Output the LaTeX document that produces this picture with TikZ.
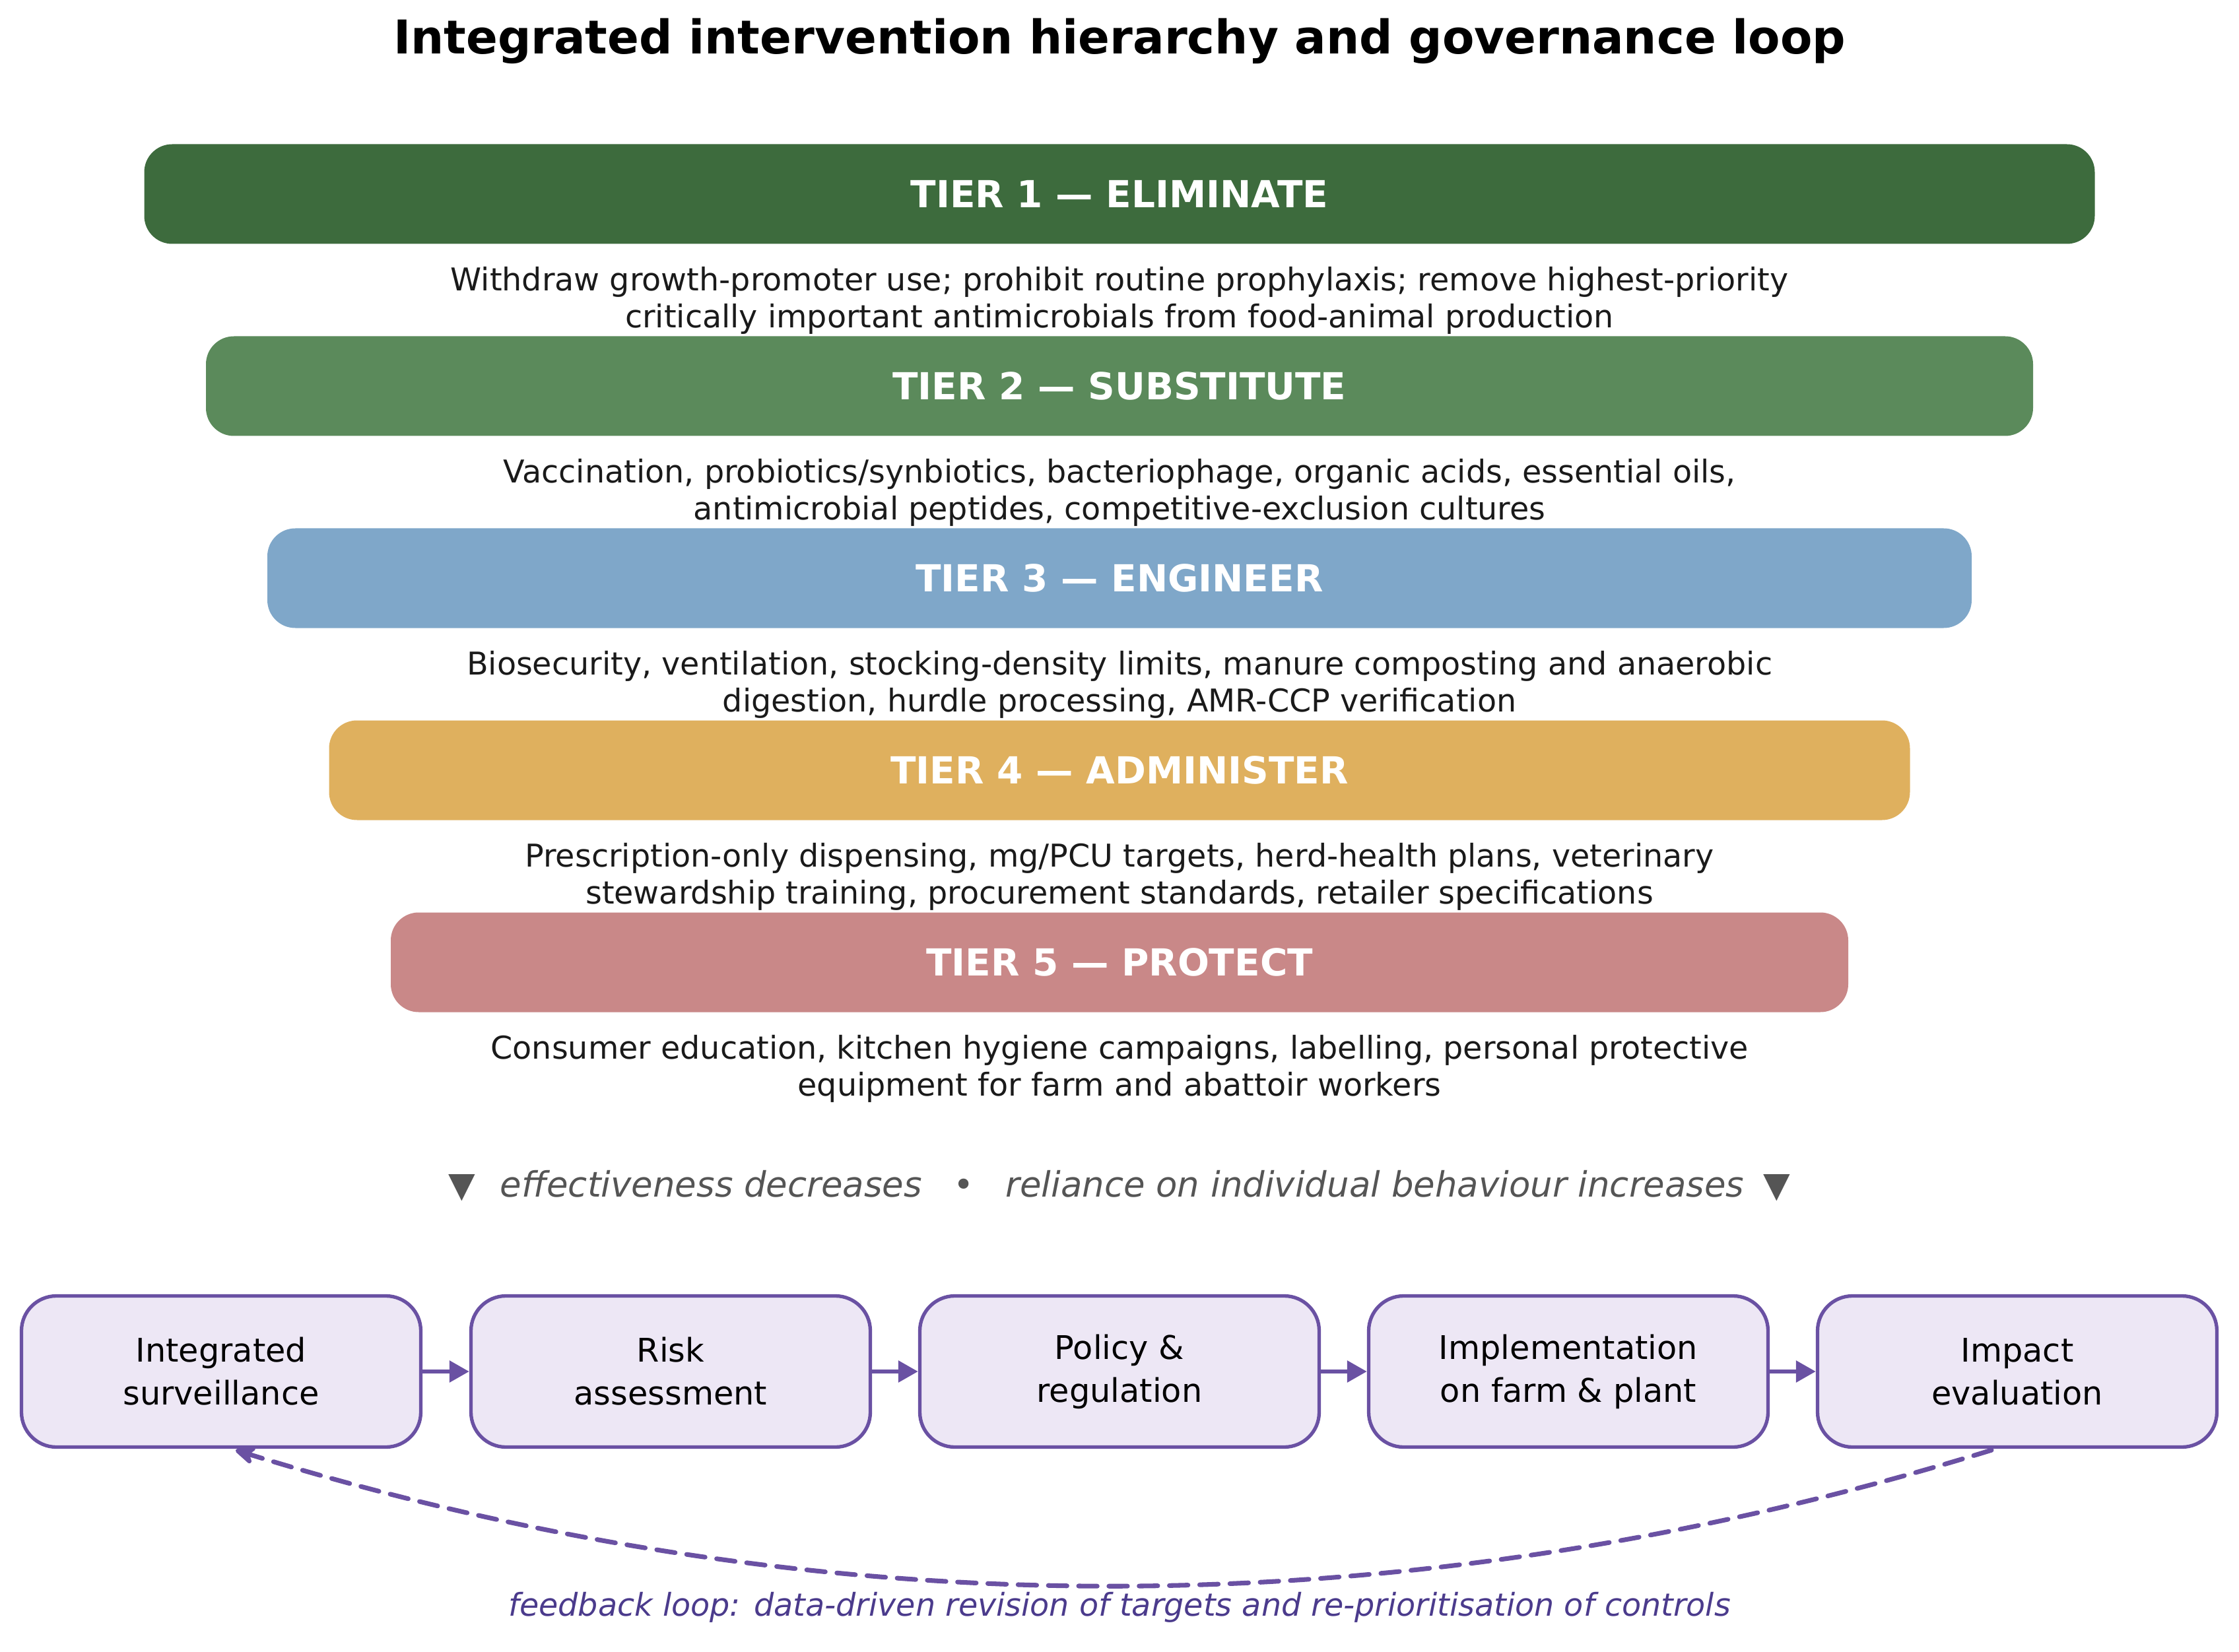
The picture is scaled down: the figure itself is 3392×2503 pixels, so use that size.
\documentclass[tikz,border=0pt]{standalone}
\usepackage{fontspec}
\setmainfont{DejaVu Sans}
\usetikzlibrary{arrows.meta,calc}
\definecolor{tA}{HTML}{3D6B3D}
\definecolor{tB}{HTML}{5B8A5B}
\definecolor{tC}{HTML}{7FA7C9}
\definecolor{tD}{HTML}{DFB05E}
\definecolor{tE}{HTML}{C98888}
\definecolor{pBorder}{HTML}{6A51A3}
\definecolor{pFill}{HTML}{EDE7F5}
\definecolor{pText}{HTML}{4B3B8C}
\definecolor{gText}{HTML}{555555}
\definecolor{bodyText}{HTML}{1A1A1A}
\begin{document}
\begin{tikzpicture}[x=0.2835pt,y=-0.2835pt,
  tierbar/.style={rounded corners=12pt, minimum height=151*0.2835pt, inner sep=0pt,
    text=white, font=\fontsize{16}{18}\selectfont\bfseries},
  tierdesc/.style={align=center, text=bodyText, inner sep=0pt,
    font=\fontsize{13.5}{15.9}\selectfont},
  stagebox/.style={draw=pBorder, fill=pFill, line width=1.5pt, rounded corners=15pt,
    minimum width=605*0.2835pt, minimum height=229*0.2835pt, align=center, inner sep=0pt,
    font=\fontsize{14}{18.4}\selectfont},
  flowarrow/.style={draw=pBorder, line width=1.9pt, -{Triangle[length=8.5pt,width=9pt]}},
  loopArrow/.style={draw=pBorder, line width=2pt, line cap=round,
    dash pattern=on 8pt off 5pt, -{Stealth[length=11pt,width=10pt,round]}}
]
\useasboundingbox (0,0) rectangle (3392,2503);

\node[font=\fontsize{20}{24}\selectfont\bfseries] (title) at (1696,62)
  {Integrated intervention hierarchy and governance loop};

% tiers
\node[tierbar, fill=tA, minimum width=2955*0.2835pt] (t1) at (1696,294) {TIER 1 — ELIMINATE};
\node[tierbar, fill=tB, minimum width=2768*0.2835pt] (t2) at (1696,585) {TIER 2 — SUBSTITUTE};
\node[tierbar, fill=tC, minimum width=2582*0.2835pt] (t3) at (1696,876) {TIER 3 — ENGINEER};
\node[tierbar, fill=tD, minimum width=2395*0.2835pt] (t4) at (1696,1167) {TIER 4 — ADMINISTER};
\node[tierbar, fill=tE, minimum width=2208*0.2835pt] (t5) at (1696,1458) {TIER 5 — PROTECT};

\node[tierdesc] (d1) at (1696,455) {Withdraw growth-promoter use; prohibit routine prophylaxis; remove highest-priority\\critically important antimicrobials from food-animal production};
\node[tierdesc] (d2) at (1696,746) {Vaccination, probiotics/synbiotics, bacteriophage, organic acids, essential oils,\\antimicrobial peptides, competitive-exclusion cultures};
\node[tierdesc] (d3) at (1696,1037) {Biosecurity, ventilation, stocking-density limits, manure composting and anaerobic\\digestion, hurdle processing, AMR-CCP verification};
\node[tierdesc] (d4) at (1696,1328) {Prescription-only dispensing, mg/PCU targets, herd-health plans, veterinary\\stewardship training, procurement standards, retailer specifications};
\node[tierdesc] (d5) at (1696,1619) {Consumer education, kitchen hygiene campaigns, labelling, personal protective\\equipment for farm and abattoir workers};

\node[text=gText, font=\fontsize{15}{17}\selectfont, inner sep=0pt] (trend) at (1696,1797)
  {▼\hspace{0.7em}\itshape effectiveness decreases\hspace{0.9em}\upshape •\hspace{0.9em}\itshape reliance on individual behaviour increases\hspace{0.55em}\upshape ▼};

% governance loop
\node[stagebox] (s1) at (335,2078) {Integrated\\surveillance};
\node[stagebox] (s2) at (1016,2078) {Risk\\assessment};
\node[stagebox] (s3) at (1696,2078) {Policy \&\\regulation};
\node[stagebox] (s4) at (2376,2078) {Implementation\\on farm \& plant};
\node[stagebox] (s5) at (3056,2078) {Impact\\evaluation};

\draw[flowarrow] (s1) -- (s2);
\draw[flowarrow] (s2) -- (s3);
\draw[flowarrow] (s3) -- (s4);
\draw[flowarrow] (s4) -- (s5);

\coordinate (fbs) at ($(s5.south)+(-39,2)$);
\coordinate (fbe) at ($(s1.south)+(22,2)$);
\draw[loopArrow] (fbs) .. controls (2130,2471) and (1244,2471) .. (fbe);

\node[text=pText, font=\fontsize{13.5}{16}\selectfont\itshape, inner sep=0pt] (fbl) at (1696,2435)
  {feedback loop: data-driven revision of targets and re-prioritisation of controls};
\end{tikzpicture}
\end{document}
